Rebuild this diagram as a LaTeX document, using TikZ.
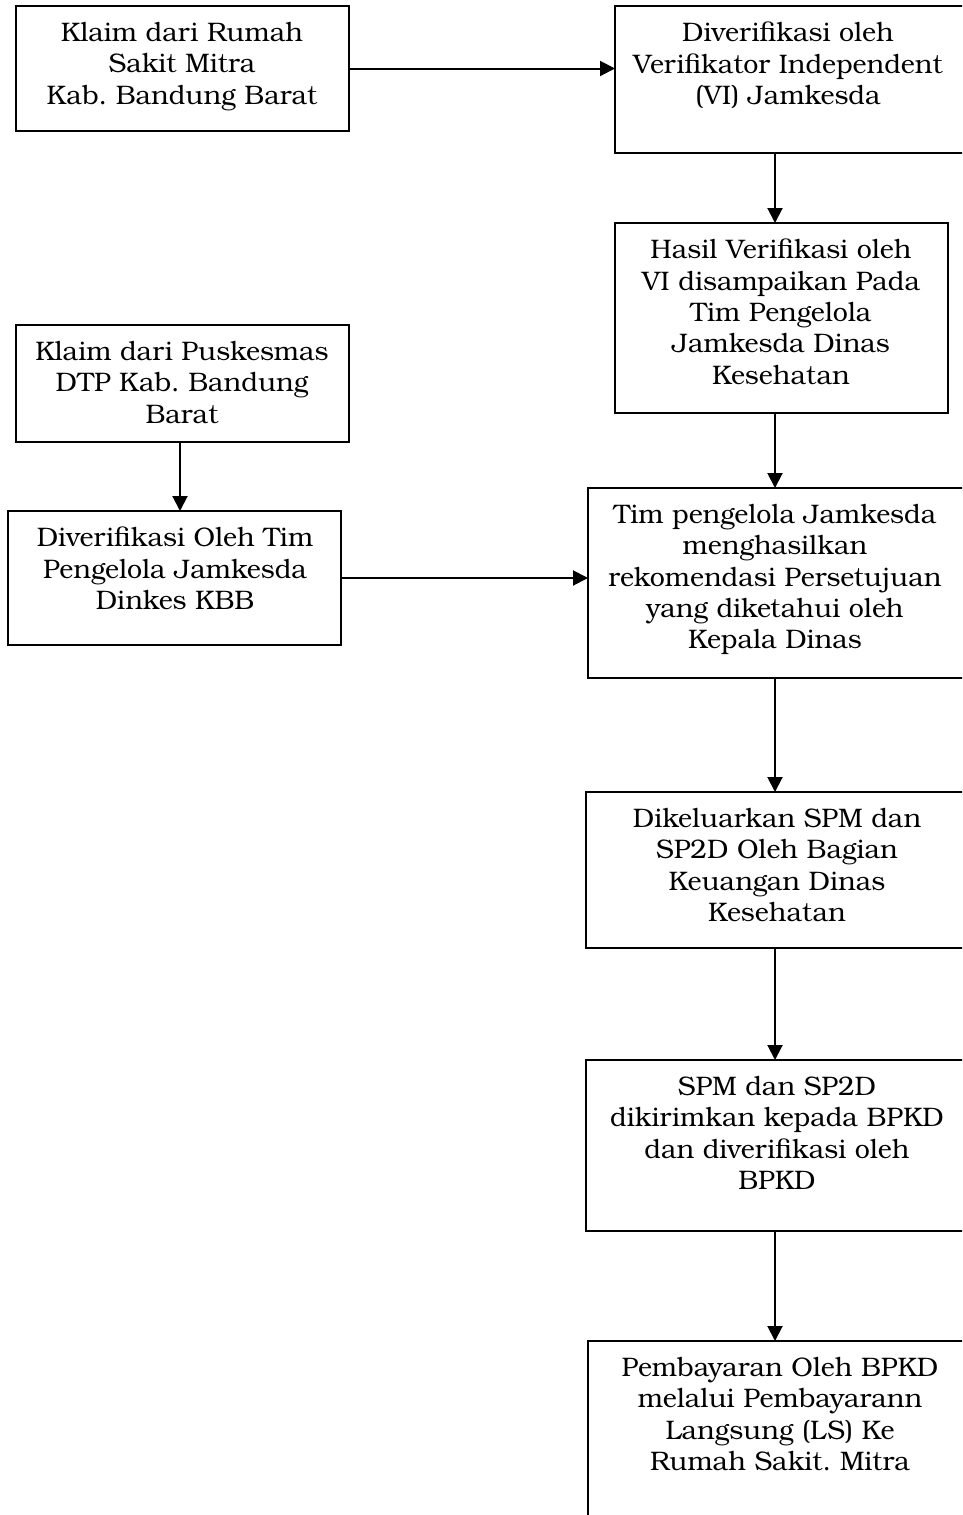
\documentclass[tikz,border=0pt]{standalone}
\usepackage{fontspec}
\setmainfont{TeX Gyre Bonum}
\usetikzlibrary{arrows.meta}
\tikzset{
  box/.style={draw, line width=2pt, rectangle, inner sep=0pt, outer sep=0pt, anchor=north west},
  lbl/.style={anchor=north, align=center, inner sep=0pt, font=\fontsize{26.8}{31.3}\selectfont\frenchspacing},
  arr/.style={line width=2pt, -{Triangle[length=15pt,width=15pt]}}
}
\begin{document}
\begin{tikzpicture}[x=1pt,y=-1pt]
\clip (0,0) rectangle (962,1515);
\fill[white] (0,0) rectangle (962,1515);
% boxes
\node[box, minimum width=333pt, minimum height=125pt] (b1) at (16,6) {};
\node[box, minimum width=370pt, minimum height=147pt] (b2) at (615,6) {};
\node[box, minimum width=333pt, minimum height=190pt] (b3) at (615,223) {};
\node[box, minimum width=380pt, minimum height=190pt] (b4) at (588,488) {};
\node[box, minimum width=380pt, minimum height=156pt] (b5) at (586,792) {};
\node[box, minimum width=380pt, minimum height=171pt] (b6) at (586,1060) {};
\node[box, minimum width=380pt, minimum height=250pt] (b7) at (588,1341) {};
\node[box, minimum width=333pt, minimum height=117pt] (b8) at (16,325) {};
\node[box, minimum width=333pt, minimum height=134pt] (b9) at (8,511) {};
% texts
\node[lbl] (t1) at (182,22) {Klaim dari Rumah\\Sakit Mitra\\Kab. Bandung Barat};
\node[lbl] (t2) at (788,22) {Diverifikasi oleh\\Verifikator Independent\\(VI) Jamkesda};
\node[lbl] (t3) at (781,239) {Hasil Verifikasi oleh\\VI disampaikan Pada\\Tim Pengelola\\Jamkesda Dinas\\Kesehatan};
\node[lbl] (t4) at (775,504) {Tim pengelola Jamkesda\\menghasilkan\\rekomendasi Persetujuan\\yang diketahui oleh\\Kepala Dinas};
\node[lbl] (t5) at (777,808) {Dikeluarkan SPM dan\\SP2D Oleh Bagian\\Keuangan Dinas\\Kesehatan};
\node[lbl] (t6) at (777,1076) {SPM dan SP2D\\dikirimkan kepada BPKD\\dan diverifikasi oleh\\BPKD};
\node[lbl] (t7) at (780,1357) {Pembayaran Oleh BPKD\\melalui Pembayarann\\Langsung (LS) Ke\\Rumah Sakit. Mitra};
\node[lbl] (t8) at (182,341) {Klaim dari Puskesmas\\DTP Kab. Bandung\\Barat};
\node[lbl] (t9) at (175,527) {Diverifikasi Oleh Tim\\Pengelola Jamkesda\\Dinkes KBB};
% axes
\coordinate (ax) at (775,0);
\coordinate (lx) at (180,0);
% connectors
\draw[arr] (b1.east) -- (b1.east -| b2.west);
\draw[arr] (b2.south -| ax) -- (b3.north -| ax);
\draw[arr] (b3.south -| ax) -- (b4.north -| ax);
\draw[arr] (b4.south -| ax) -- (b5.north -| ax);
\draw[arr] (b5.south -| ax) -- (b6.north -| ax);
\draw[arr] (b6.south -| ax) -- (b7.north -| ax);
\draw[arr] (b8.south -| lx) -- (b9.north -| lx);
\draw[arr] (b9.east) -- (b9.east -| b4.west);
\end{tikzpicture}
\end{document}
